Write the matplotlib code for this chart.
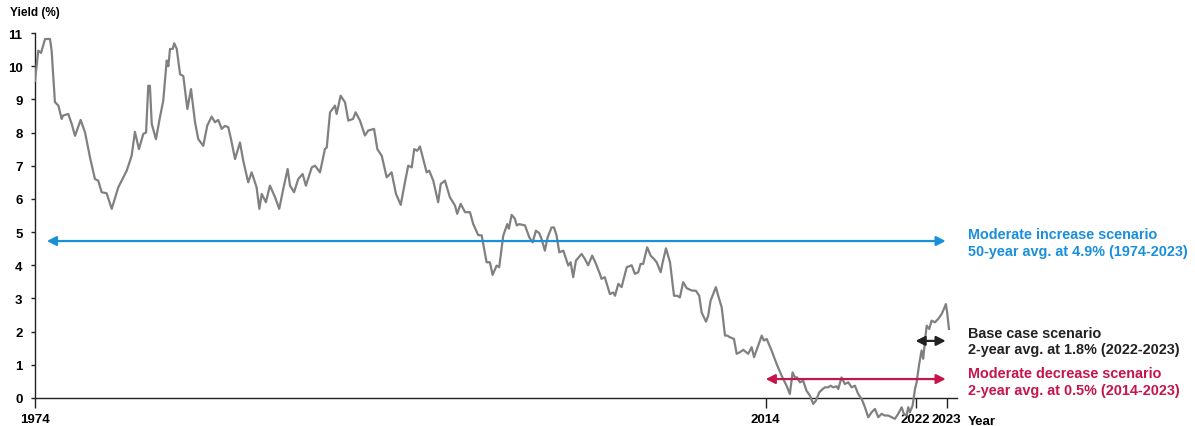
import matplotlib
matplotlib.use("Agg")
import matplotlib.pyplot as plt
import numpy as np

plt.rcParams.update({
    "font.family": ["Liberation Sans", "DejaVu Sans"],
    "font.weight": "bold",
    "font.size":   9,
})

# ── Data: 10-year yield (decimal year, %) ────────────────────────────────────
years = [
    1974.00, 1974.18, 1974.33, 1974.55, 1974.82, 1974.91, 1975.09, 1975.28, 1975.46, 1975.53,
    1975.82, 1976.01, 1976.19, 1976.50, 1976.74, 1977.01, 1977.28, 1977.46, 1977.65, 1977.92,
    1978.20, 1978.56, 1979.02, 1979.29, 1979.47, 1979.69, 1979.93, 1980.08, 1980.20, 1980.29,
    1980.39, 1980.62, 1980.84, 1981.02, 1981.21, 1981.30, 1981.39, 1981.54, 1981.62, 1981.76,
    1981.94, 1982.12, 1982.34, 1982.54, 1982.76, 1982.94, 1983.21, 1983.43, 1983.67, 1983.85,
    1984.03, 1984.22, 1984.40, 1984.58, 1984.73, 1984.95, 1985.22, 1985.40, 1985.67, 1985.86,
    1986.13, 1986.28, 1986.41, 1986.64, 1986.86, 1987.14, 1987.37, 1987.59, 1987.83, 1987.96,
    1988.18, 1988.41, 1988.65, 1988.83, 1989.15, 1989.33, 1989.60, 1989.87, 1989.97, 1990.15,
    1990.42, 1990.51, 1990.73, 1990.97, 1991.15, 1991.41, 1991.55, 1991.79, 1992.06, 1992.24,
    1992.56, 1992.74, 1992.98, 1993.25, 1993.52, 1993.76, 1994.02, 1994.25, 1994.43, 1994.62,
    1994.76, 1994.92, 1995.07, 1995.44, 1995.58, 1995.80, 1996.07, 1996.21, 1996.44, 1996.71,
    1996.99, 1997.11, 1997.30, 1997.54, 1997.81, 1997.99, 1998.26, 1998.45, 1998.72, 1998.90,
    1999.05, 1999.27, 1999.41, 1999.63, 1999.85, 1999.94, 2000.09, 2000.27, 2000.37, 2000.51,
    2000.82, 2001.06, 2001.24, 2001.42, 2001.60, 2001.73, 2001.91, 2002.06, 2002.28, 2002.41,
    2002.55, 2002.70, 2002.92, 2003.19, 2003.32, 2003.46, 2003.61, 2003.92, 2004.10, 2004.28,
    2004.50, 2004.71, 2004.92, 2005.01, 2005.19, 2005.47, 2005.65, 2005.75, 2005.93, 2006.11,
    2006.39, 2006.66, 2006.84, 2007.02, 2007.15, 2007.29, 2007.51, 2007.70, 2007.88, 2008.03,
    2008.25, 2008.36, 2008.54, 2008.76, 2008.98, 2009.16, 2009.30, 2009.48, 2009.67, 2009.94,
    2010.18, 2010.36, 2010.49, 2010.73, 2010.85, 2010.98, 2011.27, 2011.40, 2011.59, 2011.77,
    2011.89, 2012.04, 2012.26, 2012.41, 2012.59, 2012.77, 2013.04, 2013.23, 2013.36, 2013.59,
    2013.78, 2013.90, 2014.05, 2014.32, 2014.60, 2014.87, 2015.14, 2015.32, 2015.47, 2015.60,
    2015.72, 2015.87, 2016.05, 2016.23, 2016.42, 2016.60, 2016.75, 2016.93, 2017.12, 2017.24,
    2017.42, 2017.55, 2017.69, 2017.88, 2017.97, 2018.15, 2018.33, 2018.52, 2018.70, 2018.88,
    2019.06, 2019.25, 2019.43, 2019.61, 2019.80, 2019.98, 2020.16, 2020.34, 2020.53, 2020.71,
    2020.89, 2021.07, 2021.25, 2021.44, 2021.56, 2021.71, 2021.80, 2021.89, 2022.04, 2022.17,
    2022.26, 2022.40, 2022.53, 2022.62, 2022.71, 2022.81, 2022.95, 2023.08, 2023.26, 2023.44,
    2023.63, 2023.75, 2023.86, 2023.93, 2024.03,
]
yields = [
    9.56, 10.47, 10.40, 10.82, 10.82, 10.47, 8.92, 8.81, 8.41, 8.51,
    8.56, 8.26, 7.90, 8.38, 8.00, 7.25, 6.60, 6.55, 6.20, 6.17,
    5.70, 6.35, 6.85, 7.30, 8.02, 7.50, 7.96, 8.00, 9.41, 9.41,
    8.26, 7.80, 8.46, 8.96, 10.17, 10.00, 10.52, 10.52, 10.69, 10.52,
    9.76, 9.70, 8.71, 9.31, 8.31, 7.80, 7.60, 8.21, 8.48, 8.31,
    8.38, 8.11, 8.20, 8.16, 7.80, 7.20, 7.70, 7.15, 6.50, 6.80,
    6.35, 5.70, 6.15, 5.90, 6.40, 6.05, 5.70, 6.30, 6.90, 6.40,
    6.20, 6.60, 6.75, 6.40, 6.95, 7.00, 6.80, 7.50, 7.55, 8.61,
    8.81, 8.56, 9.11, 8.91, 8.36, 8.41, 8.61, 8.36, 7.91, 8.06,
    8.11, 7.50, 7.30, 6.65, 6.80, 6.15, 5.82, 6.50, 7.00, 6.95,
    7.50, 7.45, 7.58, 6.80, 6.85, 6.55, 5.90, 6.45, 6.55, 6.05,
    5.80, 5.55, 5.85, 5.60, 5.60, 5.24, 4.91, 4.90, 4.09, 4.09,
    3.71, 3.99, 3.94, 4.89, 5.24, 5.10, 5.52, 5.40, 5.20, 5.24,
    5.20, 4.84, 4.69, 5.04, 4.97, 4.79, 4.44, 4.84, 5.14, 5.14,
    4.90, 4.39, 4.44, 3.99, 4.09, 3.64, 4.14, 4.34, 4.19, 4.00,
    4.29, 4.04, 3.74, 3.59, 3.64, 3.13, 3.18, 3.08, 3.44, 3.34,
    3.94, 4.00, 3.74, 3.79, 4.04, 4.04, 4.54, 4.29, 4.19, 4.09,
    3.79, 4.09, 4.51, 4.09, 3.08, 3.08, 3.03, 3.49, 3.31, 3.24,
    3.23, 3.08, 2.58, 2.30, 2.48, 2.93, 3.34, 3.08, 2.73, 1.88,
    1.88, 1.83, 1.78, 1.33, 1.38, 1.45, 1.33, 1.53, 1.23, 1.58,
    1.88, 1.73, 1.78, 1.43, 1.02, 0.67, 0.37, 0.12, 0.77, 0.62,
    0.62, 0.47, 0.52, 0.22, 0.07, -0.18, -0.08, 0.17, 0.27, 0.32,
    0.32, 0.37, 0.32, 0.35, 0.27, 0.62, 0.42, 0.47, 0.32, 0.37,
    0.12, -0.03, -0.28, -0.58, -0.43, -0.33, -0.58, -0.48, -0.53, -0.53,
    -0.58, -0.63, -0.48, -0.28, -0.48, -0.53, -0.28, -0.43, -0.23, 0.27,
    0.47, 1.02, 1.43, 1.18, 1.68, 2.18, 2.08, 2.33, 2.28, 2.38,
    2.53, 2.68, 2.83, 2.58, 2.08,
]

tick_labels = ["1974", "2014", "2022", "2023"]
tick_years  = [1974.0, 2014.0, 2022.2, 2023.9]

# scenario arrows: (start, end, level) and labels
scen_titles = ["Moderate increase scenario", "Base case scenario", "Moderate decrease scenario"]
scen_notes  = ["50-year avg. at 4.9% (1974-2023)",
               "2-year avg. at 1.8% (2022-2023)",
               "2-year avg. at 0.5% (2014-2023)"]
scen_start  = [1974.65, 2022.2, 2014.0]
scen_end    = [2023.85, 2023.85, 2023.85]
scen_level  = [4.73, 1.72, 0.57]
scen_colors = ["#1a8fdc", "#222222", "#c5154c"]
scen_text_y = [4.69, 1.72, 0.49]

# ── Figure ───────────────────────────────────────────────────────────────────
fig = plt.figure(figsize=(11.95, 4.27), dpi=100)
ax = fig.add_axes([35 / 1195, 1.5 / 427, 922 / 1195, 391.5 / 427])

ax.plot(years, yields, color="#808080", linewidth=1.6, zorder=3)

for x0, x1, lvl, col in zip(scen_start, scen_end, scen_level, scen_colors):
    ax.annotate("", xy=(x1, lvl), xytext=(x0, lvl),
                arrowprops=dict(arrowstyle="<|-|>,head_length=0.55,head_width=0.28",
                                color=col, lw=1.6, shrinkA=0, shrinkB=0,
                                mutation_scale=10),
                zorder=4)

for title, note, ty, col in zip(scen_titles, scen_notes, scen_text_y, scen_colors):
    ax.text(2025.05, ty, f"{title}\n{note}", color=col, fontsize=10.4,
            fontweight="bold", va="center", ha="left", linespacing=1.25,
            clip_on=False)

ax.set_xlim(1974, 2024.47)
ax.set_ylim(-0.8, 11)

ax.spines["top"].set_visible(False)
ax.spines["right"].set_visible(False)
ax.spines["bottom"].set_position(("data", 0))
ax.spines["left"].set_bounds(0, 11)
for s in ("left", "bottom"):
    ax.spines[s].set_color("#222222")
    ax.spines[s].set_linewidth(1.0)

ax.set_yticks(range(0, 12))
ax.set_yticklabels([str(v) for v in range(0, 12)])
ax.set_xticks(tick_years)
ax.set_xticklabels(tick_labels)
ax.tick_params(axis="y", length=3, width=1, color="#222222", pad=6, labelsize=9.5)
ax.tick_params(axis="x", length=7, width=1, color="#222222", pad=4, labelsize=9.5)
for lab in ax.get_xticklabels() + ax.get_yticklabels():
    lab.set_fontweight("bold")

ax.text(2025.05, -0.68, "Year", fontsize=9.5, fontweight="bold",
        ha="left", va="center", clip_on=False)
fig.text(10 / 1195, 1 - 13 / 427, "Yield (%)", fontsize=8.5, fontweight="bold",
         ha="left", va="center")

fig.savefig("out.png", dpi=100)
